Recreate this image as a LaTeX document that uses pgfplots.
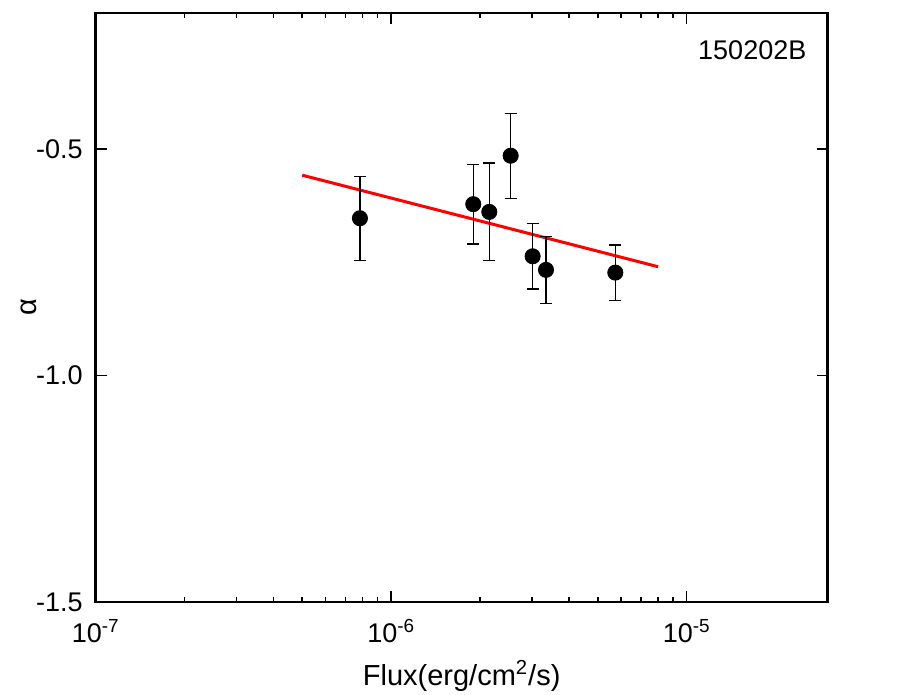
\documentclass[border=0pt]{standalone}
\usepackage{fontspec}
\setmainfont{Liberation Sans}
\usepackage{pgfplots}
\pgfplotsset{compat=1.18}
\begin{document}
\begin{tikzpicture}
\begin{axis}[
    name=ax,
    scale only axis,
    width=366pt, height=294.5pt,
    xmode=log,
    xmin=1e-7, xmax=3e-5, ymin=-1.5, ymax=-0.2,
    xtick={1e-7,1e-6,1e-5},
    xticklabels={10\textsuperscript{-7},10\textsuperscript{-6},10\textsuperscript{-5}},
    ytick={-1.5,-1.0,-0.5},
    yticklabels={-1.5,-1.0,-0.5},
    tick align=inside,
    major tick length=5.5pt, minor tick length=2.5pt,
    every tick/.style={black, line width=0.8pt},
    axis line style={line width=1.2pt},
    tick label style={font=\fontsize{13.5}{16}\selectfont},
    yticklabel style={xshift=-3pt},
    xticklabel style={yshift=-5pt},
    xlabel style={font=\fontsize{14.5}{17}\selectfont, yshift=-2pt},
    ylabel style={font=\fontsize{14.5}{17}\selectfont, yshift=-7pt},
    xlabel={Flux(erg/cm\textsuperscript{2}/s)},
    ylabel={α},
  ]
\addplot[red, line width=1.5pt] coordinates {(5e-7,-0.558) (8e-6,-0.760)};
\addplot[only marks, mark=*, mark size=3.8pt, black,
         error bars/.cd, y dir=both, y explicit,
         error bar style={line width=0.6pt, black},
         error mark options={rotate=90, mark size=3pt, line width=0.6pt, black}]
  table[x=x, y=y, y error=e] {
  x        y       e
  7.84e-7  -0.653  0.093
  1.896e-6 -0.622  0.088
  2.148e-6 -0.639  0.108
  2.537e-6 -0.515  0.094
  3.011e-6 -0.737  0.072
  3.342e-6 -0.767  0.074
  5.735e-6 -0.773  0.061
};
\node[font=\fontsize{13.5}{16}\selectfont] at (rel axis cs:0.897,0.937) {150202B};
\end{axis}
\pgfresetboundingbox
\path ([xshift=-47.85pt,yshift=-46.5pt]ax.south west) rectangle ([xshift=44.65pt,yshift=6.5pt]ax.north east);
\end{tikzpicture}
\end{document}
